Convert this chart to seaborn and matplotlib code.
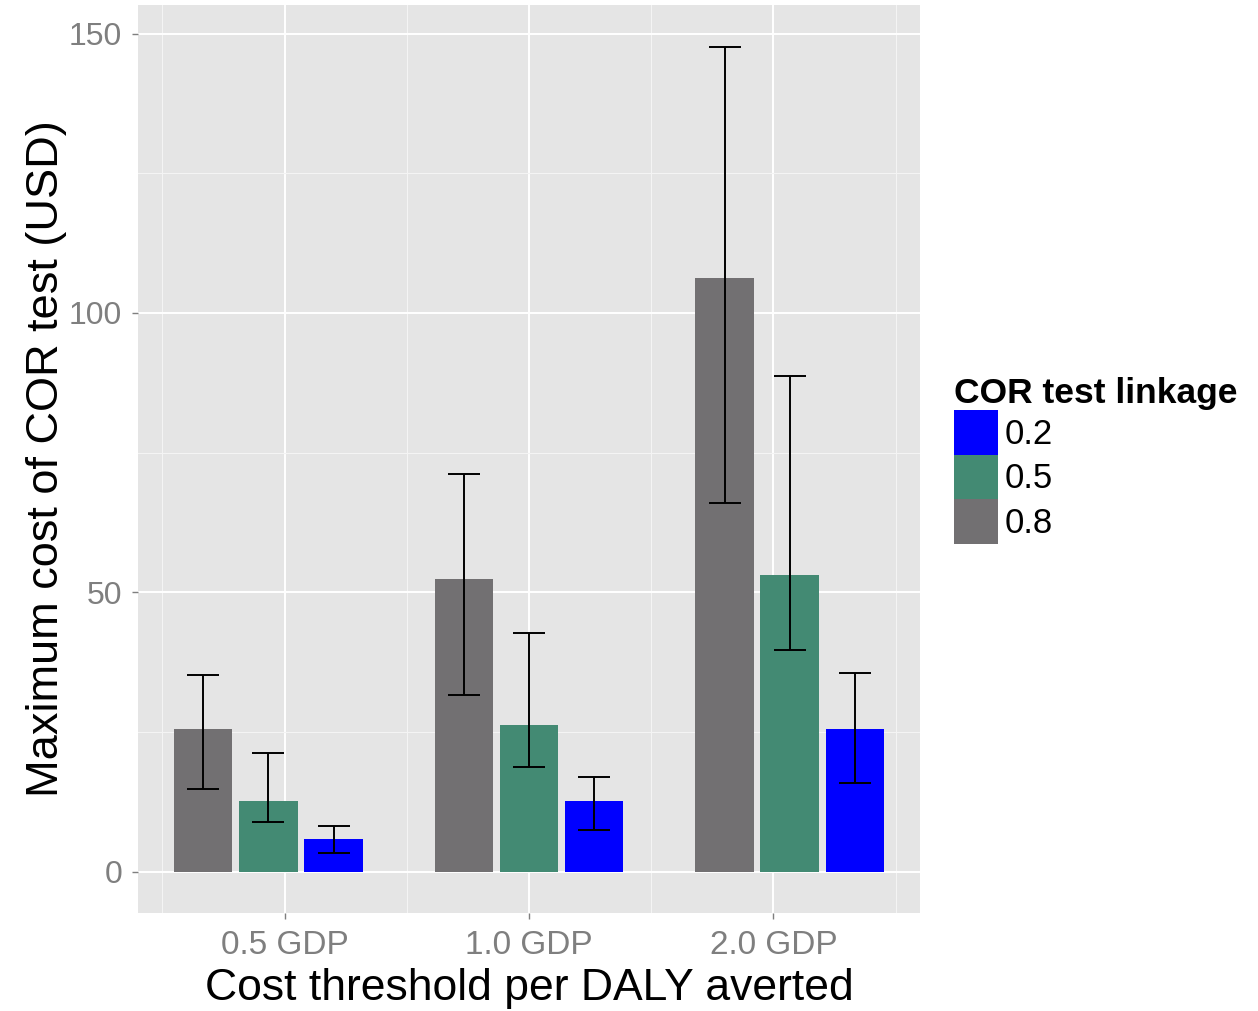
import numpy as np
import pandas as pd
import matplotlib
matplotlib.use("Agg")
import matplotlib.pyplot as plt
import seaborn as sns
from matplotlib.patches import Patch

# ---- data ----
thresholds = ["0.5 GDP", "1.0 GDP", "2.0 GDP"]
linkages = ["0.8", "0.5", "0.2"]          # drawing order within each group
legend_order = ["0.2", "0.5", "0.8"]

value_08 = [25.5, 52.4, 106.3]
low_08 = [14.8, 31.6, 65.9]
high_08 = [35.2, 71.2, 147.5]

value_05 = [12.6, 26.2, 53.1]
low_05 = [8.9, 18.7, 39.7]
high_05 = [21.2, 42.8, 88.7]

value_02 = [5.9, 12.6, 25.5]
low_02 = [3.3, 7.5, 15.9]
high_02 = [8.2, 16.9, 35.5]

y_ticks = [0, 50, 100, 150]
y_minor = [25, 75, 125]

colors = {"0.2": "#0000FF", "0.5": "#438A73", "0.8": "#727072"}

rows = []
for link, v, lo, hi in [("0.8", value_08, low_08, high_08),
                        ("0.5", value_05, low_05, high_05),
                        ("0.2", value_02, low_02, high_02)]:
    for t, a, b, c in zip(thresholds, v, lo, hi):
        rows.append(dict(threshold=t, linkage=link, value=a, lo=b, hi=c))
df = pd.DataFrame(rows)

plt.rcParams["font.family"] = ["Liberation Sans", "DejaVu Sans"]

fig = plt.figure(figsize=(12.58, 10.11), dpi=100)
ax = fig.add_axes([138 / 1258, 1 - 913 / 1011, 782 / 1258, 908 / 1011])
ax.set_facecolor("#E5E5E5")
ax.set_axisbelow(True)

sns.barplot(data=df, x="threshold", y="value", hue="linkage",
            order=thresholds, hue_order=linkages, palette=colors,
            width=0.75, gap=0.1, errorbar=None, legend=False,
            saturation=1, linewidth=0, ax=ax)

# error bars at bar centres
patches = sorted([p for p in ax.patches], key=lambda p: p.get_x() + p.get_width() / 2)
df["g"] = df["threshold"].map({t: i for i, t in enumerate(thresholds)})
df["h"] = df["linkage"].map({l: i for i, l in enumerate(linkages)})
dfs = df.sort_values(["g", "h"]).reset_index(drop=True)
xs = [p.get_x() + p.get_width() / 2 for p in patches]
ax.errorbar(xs, dfs["value"], yerr=[dfs["value"] - dfs["lo"], dfs["hi"] - dfs["value"]],
            fmt="none", ecolor="black", elinewidth=1.4, capsize=11.5, capthick=1.4, zorder=5)

xmin, xmax = -0.5, 2.5
ax.set_xlim(xmin, xmax)
ax.set_ylim(-7.38, 155.1)


def gg(k):
    return xmin + (k - 0.4) / 3.2 * (xmax - xmin)


ax.set_xticks([gg(k) for k in (1, 2, 3)])
ax.set_xticklabels(thresholds)
ax.set_xticks([gg(k) for k in (0.5, 1.5, 2.5, 3.5)], minor=True)
ax.set_yticks(y_ticks)
ax.set_yticklabels([str(v) for v in y_ticks])
ax.set_yticks(y_minor, minor=True)

ax.grid(which="major", color="white", linewidth=1.4)
ax.grid(which="minor", color="#F4F4F4", linewidth=0.8)
for s in ax.spines.values():
    s.set_visible(False)

ax.tick_params(axis="both", which="major", color="#7F7F7F", length=4.5, width=1,
               labelcolor="#7F7F7F")
ax.tick_params(axis="y", which="major", labelsize=23, pad=7)
ax.tick_params(axis="x", which="major", labelsize=24, pad=8)
ax.tick_params(which="minor", length=0)

ax.set_xlabel("Cost threshold per DALY averted", fontsize=32, color="black", labelpad=5)
ax.set_ylabel("Maximum cost of COR test (USD)", fontsize=32.5, color="black", labelpad=1)

handles = [Patch(facecolor=colors[l], edgecolor="none") for l in legend_order]
ax.legend(handles, legend_order, title="COR test linkage",
          loc="upper left", bbox_to_anchor=(954 / 1258, 1 - 377 / 1011),
          bbox_transform=fig.transFigure, frameon=False, fontsize=25,
          title_fontproperties={"weight": "bold", "size": 25.5},
          handlelength=1.27, handleheight=1.6, labelspacing=0,
          handletextpad=0.2, borderpad=0, borderaxespad=0, alignment="left")

fig.savefig("out.png", dpi=100)
